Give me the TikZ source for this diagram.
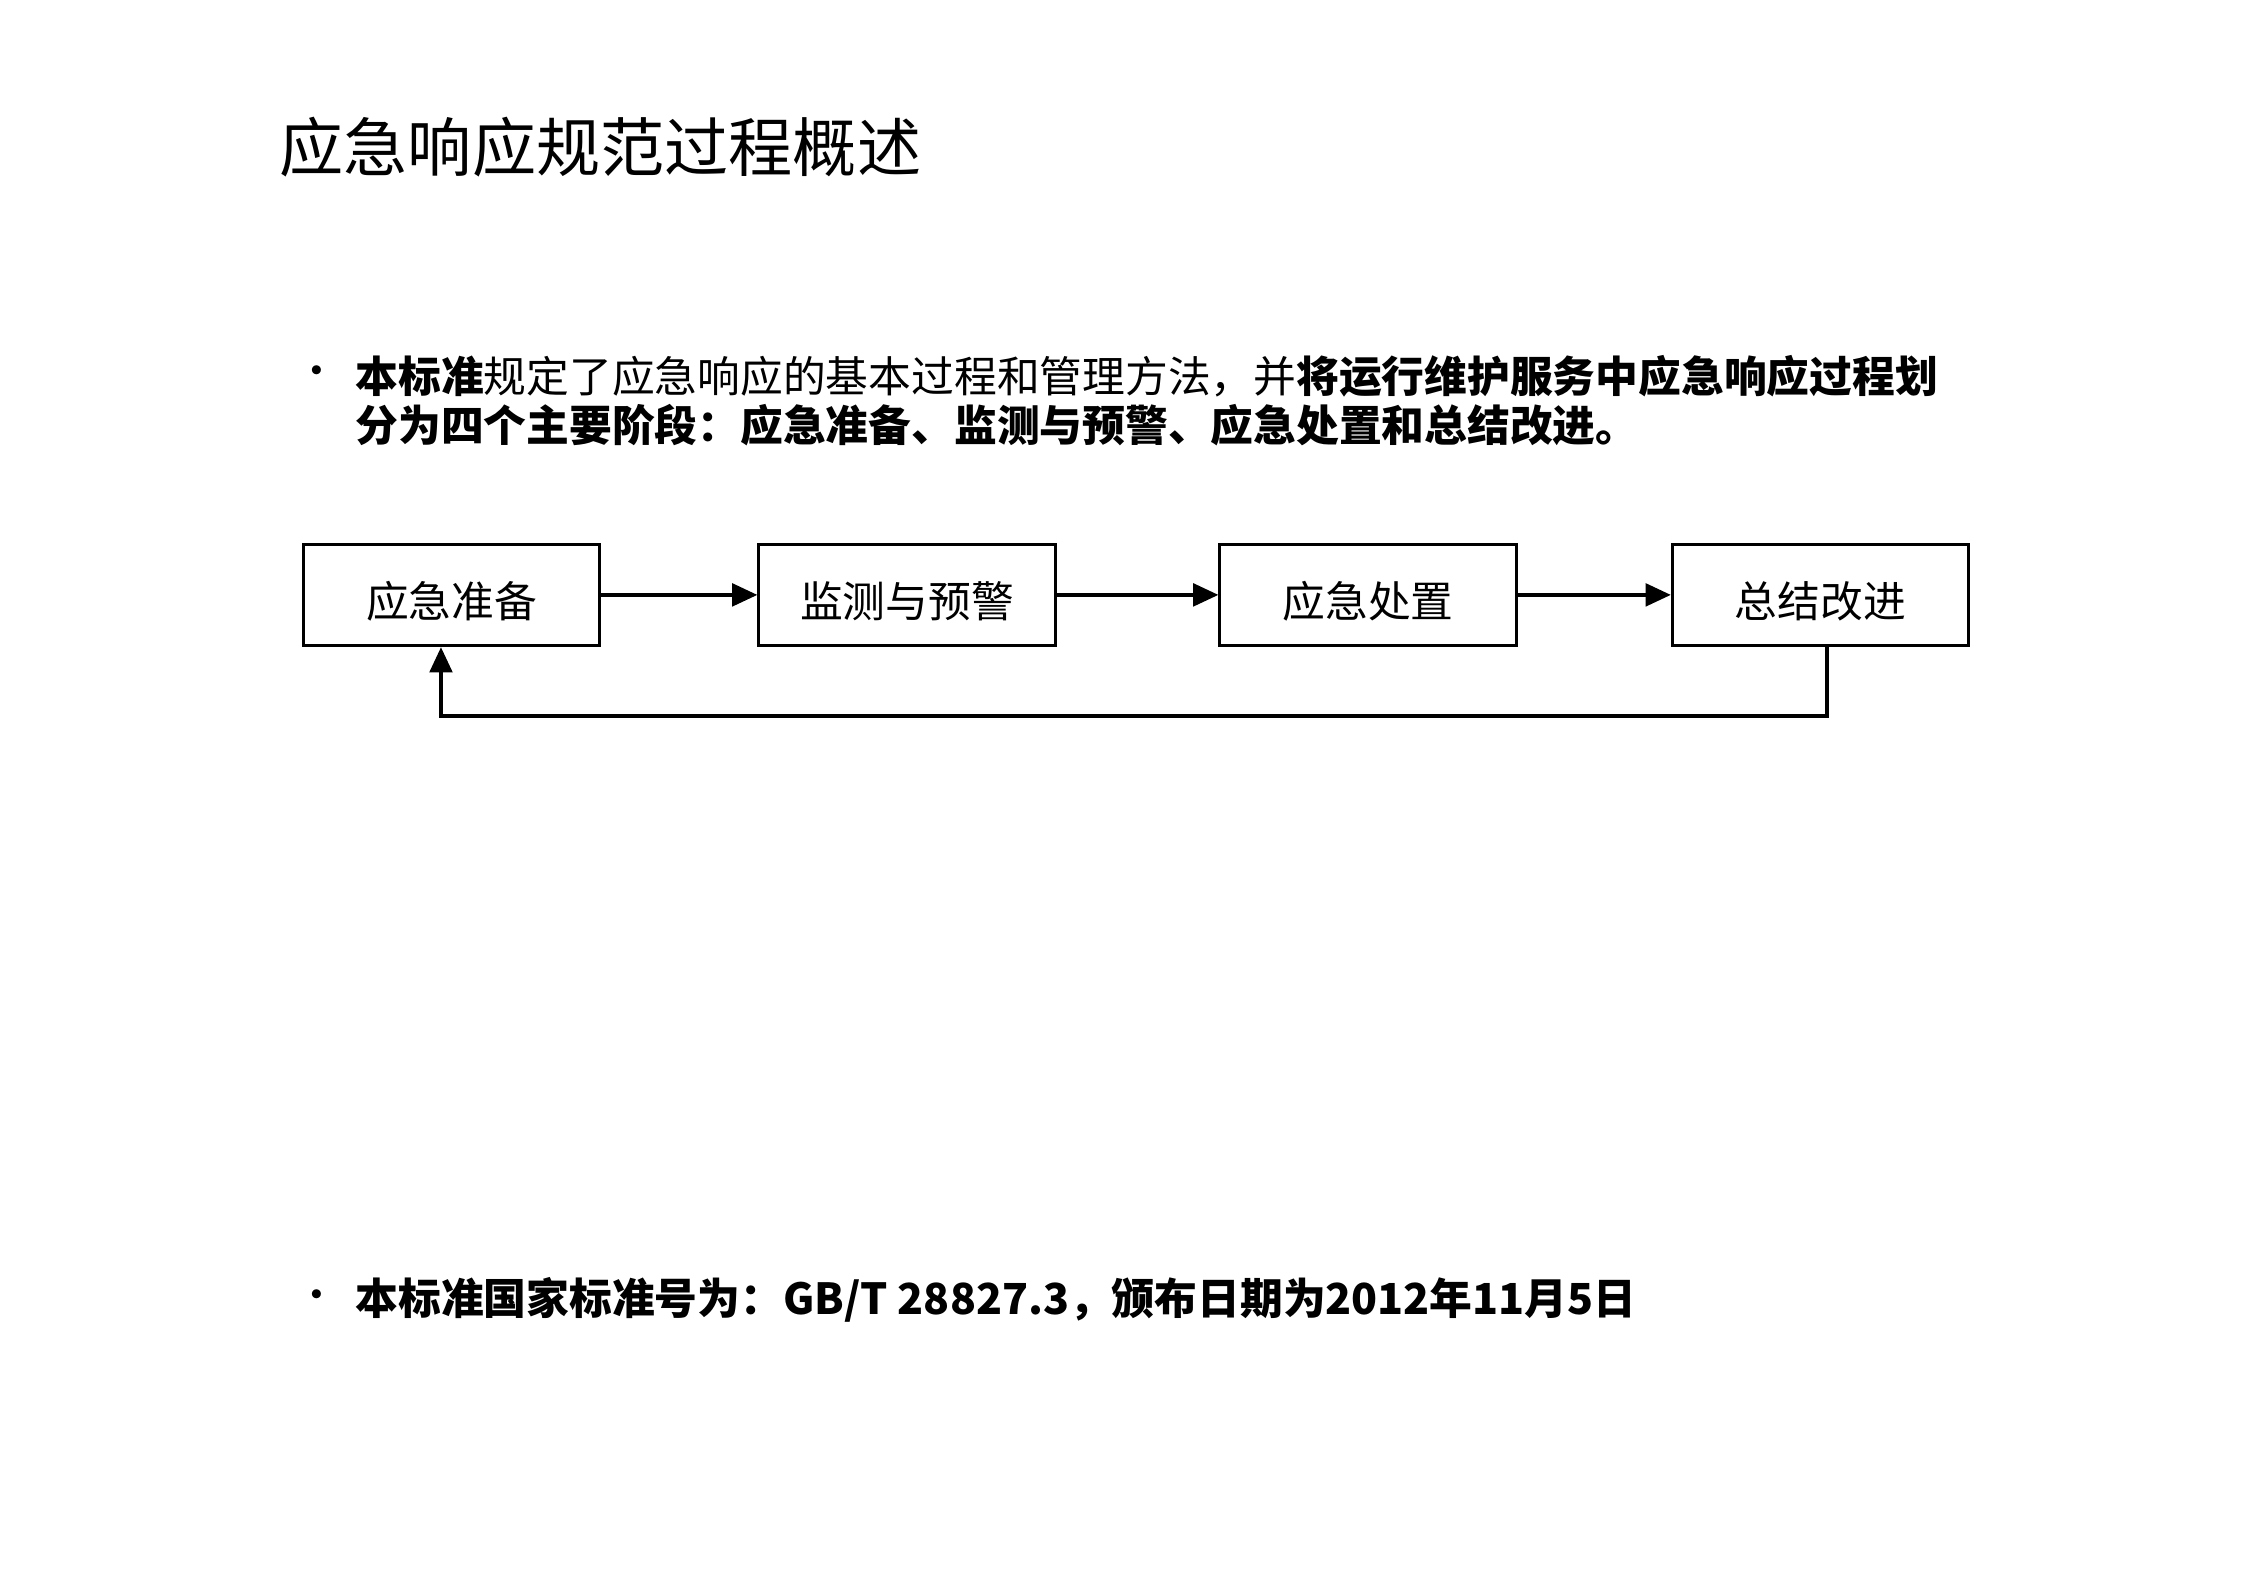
\documentclass[tikz,border=0pt]{standalone}
\usepackage{fontspec}
\setmainfont{Noto Sans CJK SC}
\usetikzlibrary{arrows.meta}
\begin{document}
\begin{tikzpicture}[x=0.02cm,y=0.02cm,
  stagebox/.style={draw,line width=1.2pt,minimum width=207*0.02cm,minimum height=71*0.02cm,inner sep=0pt,text depth=0pt,font=\fontsize{17}{18}\selectfont},
  lbl/.style={inner sep=0pt,font=\fontsize{17}{18}\selectfont},
  flow/.style={line width=1.3pt,-{Triangle[length=10pt,width=9pt]}},
  bul/.style={anchor=west,inner sep=0pt,font=\fontsize{17}{20}\selectfont}]
\useasboundingbox (0,0) rectangle (1568,-1108);
\node[anchor=west,inner sep=0pt,font=\fontsize{25.5}{28}\selectfont] (title) at (195,-103) {应急响应规范过程概述};
\node[bul] (b1) at (206,-263) {•};
\node[bul] (l1) at (248,-263) {{\bfseries 本标准}规定了应急响应的基本过程和管理方法，并{\bfseries 将运行维护服务中应急响应过程划}};
\node[bul] (l2) at (248,-297) {\bfseries 分为四个主要阶段：应急准备、监测与预警、应急处置和总结改进。};
\node[stagebox] (s1) at (315.5,-415.5) {};
\node[stagebox] (s2) at (633.5,-415.5) {};
\node[stagebox] (s3) at (955.5,-415.5) {};
\node[stagebox] (s4) at (1271.5,-415.5) {};
\node[lbl] (t1) at (315.5,-420) {应急准备};
\node[lbl] (t2) at (633.5,-420) {监测与预警};
\node[lbl] (t3) at (955.5,-420) {应急处置};
\node[lbl] (t4) at (1271.5,-420) {总结改进};
\draw[flow] (s1) -- (s2);
\draw[flow] (s2) -- (s3);
\draw[flow] (s3) -- (s4);
\coordinate (c1) at (1276,-500);
\coordinate (c2) at (308,-500);
\draw[flow] (s4.south -| c1) -- (c1) -- (c2) -- (s1.south -| c2);
\node[bul] (b2) at (206,-908) {•};
\node[bul] (l3) at (248,-908) {\bfseries 本标准国家标准号为：GB/T 28827.3，颁布日期为2012年11月5日};
\end{tikzpicture}
\end{document}
